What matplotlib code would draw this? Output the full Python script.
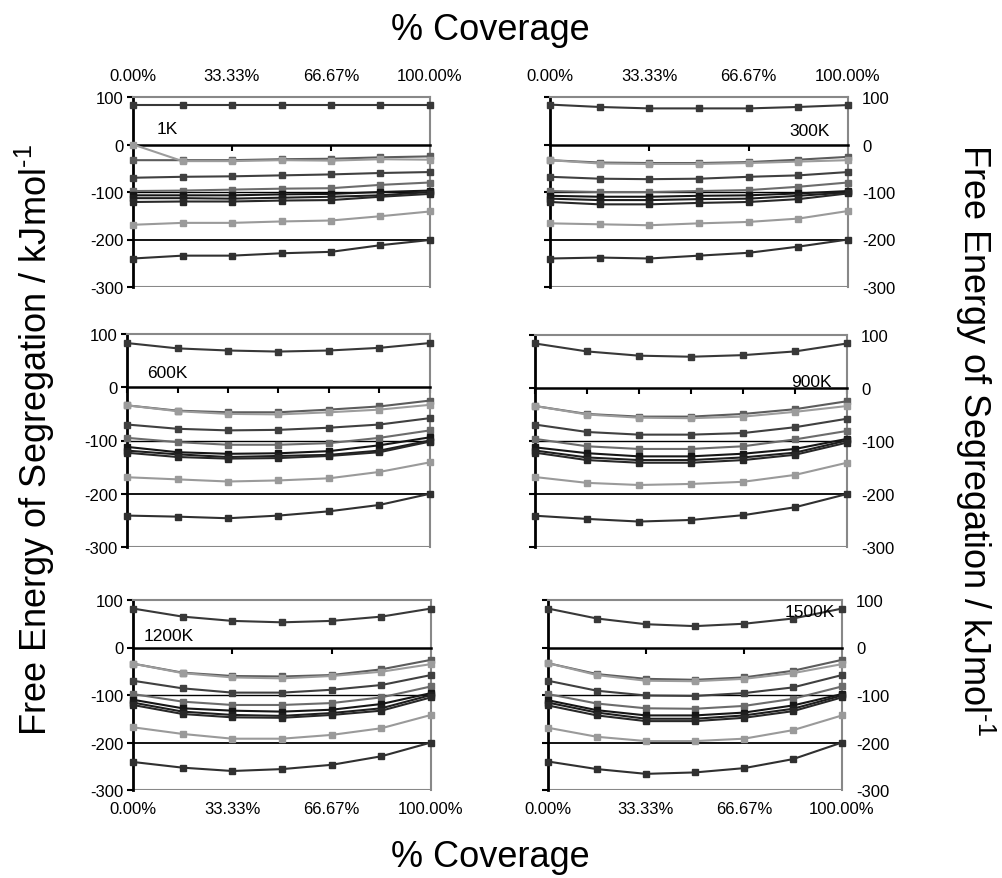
import matplotlib.pyplot as plt
import numpy as np

plt.rcParams['font.family'] = ['Liberation Sans', 'DejaVu Sans']
plt.rcParams['axes.unicode_minus'] = False
plt.rcParams['mathtext.fontset'] = 'custom'
plt.rcParams['mathtext.rm'] = 'Liberation Sans'

# % coverage of the boundary sites
coverage = [0, 16.67, 33.33, 50, 66.67, 83.33, 100]
cov_ticks = [0, 33.33, 66.67, 100]
cov_labels = ['0.00%', '33.33%', '66.67%', '100.00%']

# free energy of segregation (kJ/mol), one row per solute, one list per temperature
g_1K = [
    [83, 83, 83, 83, 83, 83, 83],
    [-33, -33, -33, -31, -30, -27, -25],
    [0, -35, -35, -33, -34, -31, -32],
    [-70, -68, -67, -65, -63, -60, -58],
    [-98, -97, -95, -93, -92, -85, -80],
    [-107, -107, -107, -105, -104, -100, -97],
    [-113, -113, -114, -112, -110, -107, -100],
    [-121, -120, -120, -118, -117, -110, -104],
    [-169, -165, -165, -162, -160, -151, -141],
    [-240, -234, -234, -229, -226, -212, -201],
]
g_300K = [
    [84, 79, 76, 76, 76, 79, 83],
    [-33, -38, -39, -39, -37, -32, -26],
    [-33, -40, -41, -41, -39, -36, -33],
    [-68, -72, -73, -72, -68, -65, -58],
    [-98, -100, -100, -98, -96, -89, -80],
    [-108, -110, -110, -108, -107, -103, -98],
    [-114, -117, -117, -115, -114, -108, -101],
    [-121, -126, -126, -123, -121, -115, -103],
    [-166, -168, -170, -166, -163, -156, -140],
    [-240, -238, -240, -234, -228, -215, -200],
]
g_600K = [
    [83, 73, 69, 67, 69, 74, 83],
    [-34, -44, -47, -47, -42, -36, -25],
    [-34, -45, -50, -51, -47, -42, -33],
    [-70, -78, -81, -80, -76, -70, -58],
    [-95, -103, -108, -108, -105, -95, -81],
    [-112, -122, -125, -124, -120, -109, -94],
    [-119, -126, -131, -129, -127, -119, -100],
    [-123, -131, -134, -133, -129, -122, -102],
    [-169, -173, -177, -175, -171, -159, -141],
    [-241, -243, -246, -241, -233, -221, -200],
]
g_900K = [
    [84, 69, 61, 59, 62, 69, 84],
    [-34, -49, -54, -54, -49, -40, -25],
    [-34, -50, -56, -57, -54, -45, -34],
    [-69, -83, -88, -88, -85, -74, -58],
    [-96, -110, -115, -115, -110, -97, -81],
    [-112, -123, -129, -129, -124, -115, -96],
    [-118, -131, -136, -136, -131, -122, -99],
    [-122, -136, -141, -141, -136, -126, -103],
    [-168, -179, -183, -181, -177, -164, -141],
    [-241, -247, -252, -249, -240, -225, -200],
]
g_1200K = [
    [82, 65, 56, 53, 56, 65, 82],
    [-34, -53, -60, -61, -58, -46, -26],
    [-34, -54, -63, -65, -60, -51, -35],
    [-70, -86, -95, -95, -89, -79, -58],
    [-98, -114, -121, -121, -117, -105, -82],
    [-110, -128, -133, -135, -131, -119, -96],
    [-116, -135, -142, -144, -138, -128, -100],
    [-121, -140, -147, -148, -142, -133, -105],
    [-168, -182, -192, -192, -184, -170, -142],
    [-241, -253, -260, -256, -247, -229, -200],
]
g_1500K = [
    [82, 61, 49, 45, 50, 61, 82],
    [-33, -56, -66, -68, -63, -49, -26],
    [-33, -58, -70, -71, -66, -54, -35],
    [-70, -91, -101, -102, -96, -84, -58],
    [-98, -118, -128, -129, -123, -108, -82],
    [-111, -132, -143, -143, -137, -122, -98],
    [-116, -137, -150, -150, -143, -129, -101],
    [-122, -143, -155, -155, -148, -134, -105],
    [-169, -188, -197, -197, -192, -174, -143],
    [-240, -256, -266, -263, -254, -235, -200],
]

# grey level of each solute's line
shades = ['#383838', '#5c5c5c', '#9c9c9c', '#404040', '#6c6c6c',
          '#161616', '#1e1e1e', '#282828', '#9a9a9a', '#303030']

W, H = 1003, 879
fig = plt.figure(figsize=(W / 100, H / 100), dpi=100)


def panel(left, right, top, bottom, data, label, lab_x, lab_y, lab_ha,
          side, xlab, minor):
    ax = fig.add_axes([left / W, 1 - bottom / H, (right - left) / W, (bottom - top) / H])
    ax.set_xlim(0, 100)
    ax.set_ylim(-300, 100)

    for row, c in zip(data, shades):
        ax.plot(coverage, row, color=c, lw=1.5, marker='s', ms=4.5,
                mec=c, mfc=c, clip_on=False, zorder=3)

    # reference lines
    ax.axhline(-100, color='black', lw=1.0, zorder=2)
    ax.axhline(-200, color='black', lw=1.3, zorder=2)
    ax.axhline(-300, color='#888888', lw=1.5, zorder=2)

    for s in ['top', 'right']:
        ax.spines[s].set_color('#888888')
        ax.spines[s].set_linewidth(1.5)
    ax.spines['left'].set_color('black')
    ax.spines['left'].set_linewidth(2.0)
    ax.spines['bottom'].set_position(('data', 0))
    ax.spines['bottom'].set_color('black')
    ax.spines['bottom'].set_linewidth(1.8)

    ax.set_xticks(coverage if minor else cov_ticks[1:3])
    ax.tick_params(axis='x', direction='out', length=4, width=1.5,
                   labelbottom=False)

    ax.set_yticks([100, 0, -100, -200, -300])
    if side == 'left':
        ax.tick_params(axis='y', direction='out', length=4, width=1.5,
                       labelsize=12, pad=3)
    else:
        ax.tick_params(axis='y', direction='out', length=4, width=1.5,
                       labelleft=False, labelright=True, right=False,
                       labelsize=12, pad=6)

    if xlab is not None:
        sec = ax.secondary_xaxis(xlab)
        sec.set_xticks(cov_ticks)
        sec.set_xticklabels(cov_labels)
        sec.tick_params(length=0, labelsize=12, pad=10 if xlab == 'top' else 8)
        sec.spines[xlab].set_visible(False)

    ax.text(lab_x, lab_y, label, ha=lab_ha, va='center', fontsize=12.5, zorder=4)
    return ax


panel(133, 430, 98, 288, g_1K, '1K', 8, 34, 'left', 'left', 'top', False)
panel(550, 848, 98, 288, g_300K, '300K', 94, 30, 'right', 'right', 'top', False)
panel(127, 430, 335, 548, g_600K, '600K', 6.5, 28, 'left', 'left', None, True)
panel(535, 847, 336, 548, g_900K, '900K', 95, 12, 'right', 'right', None, True)
panel(133, 431, 601, 791, g_1200K, '1200K', 3.5, 25, 'left', 'left', 'bottom', False)
panel(548, 842, 601, 791, g_1500K, '1500K', 97.5, 76, 'right', 'right', 'bottom', False)

ylab = 'Free Energy of Segregation / kJmol$^{\\text{-1}}$'
fig.text(490 / W, 1 - 30 / H, '% Coverage', ha='center', va='center', fontsize=26)
fig.text(490 / W, 1 - 858 / H, '% Coverage', ha='center', va='center', fontsize=26)
fig.text(35 / W, 1 - 440 / H, ylab, rotation=90, ha='center', va='center', fontsize=26)
fig.text(975 / W, 1 - 440 / H, ylab, rotation=-90, ha='center', va='center', fontsize=26)

fig.savefig('out.png', dpi=100, facecolor='white')
